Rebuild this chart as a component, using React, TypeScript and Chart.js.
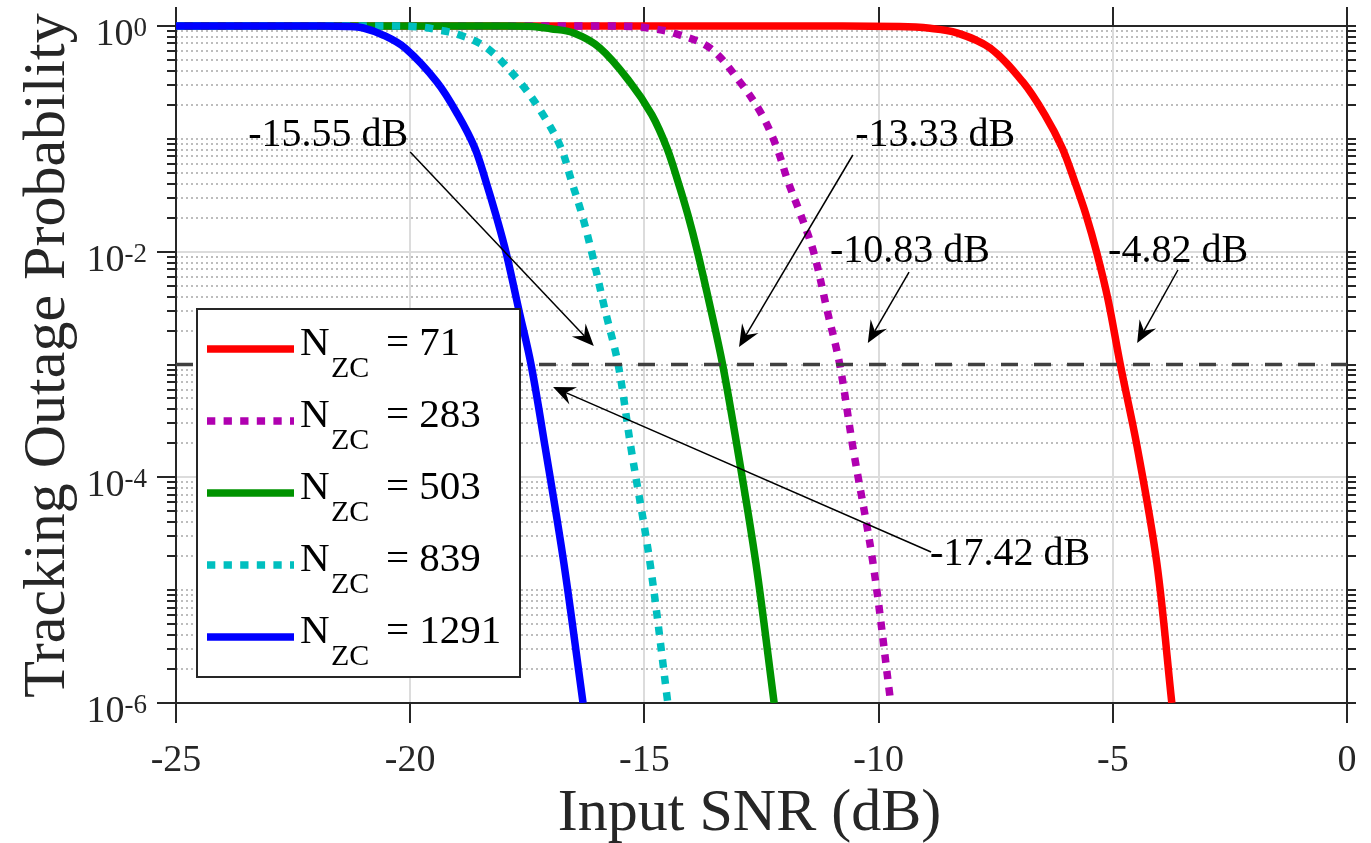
import React, { useEffect, useRef } from "react";
import { Chart, registerables } from "chart.js";

Chart.register(...registerables);

// ---------- data ----------
const SERIES_NZC = ["71", "283", "503", "839", "1291"];
const SERIES_COLORS = ["#ff0000", "#b000b0", "#009300", "#00bfbf", "#0000ff"];
const SERIES_DOTTED = [false, true, false, true, false];

const SNR_71 = [-25, -12.0, -9.55, -8.9, -8.33, -7.62, -6.92, -6.45, -6.08, -5.81, -5.57, -5.34, -5.1, -4.84, -4.48, -4.06, -3.74];
const P_71 = [1, 0.9995, 0.99, 0.955, 0.87, 0.638, 0.319, 0.163, 0.083, 0.0414, 0.0211, 0.0097, 0.00373, 0.001, 1.86e-4, 1.74e-5, 1e-6];

const SNR_283 = [-25, -16.0, -15.24, -14.85, -14.39, -13.6, -12.96, -12.49, -12.17, -11.93, -11.66, -11.38, -11.1, -10.83, -10.55, -10.12, -9.74];
const P_283 = [1, 0.9995, 0.99, 0.95, 0.87, 0.638, 0.319, 0.163, 0.083, 0.0414, 0.0211, 0.0097, 0.00304, 0.001, 1.86e-4, 1.74e-5, 1e-6];

const SNR_503 = [-25, -18.0, -17.38, -17.0, -16.52, -15.95, -15.31, -14.84, -14.52, -14.28, -14.07, -13.86, -13.58, -13.33, -13.02, -12.62, -12.23];
const P_503 = [1, 0.9995, 0.99, 0.945, 0.87, 0.638, 0.319, 0.163, 0.083, 0.0414, 0.0211, 0.0097, 0.00304, 0.001, 1.86e-4, 1.74e-5, 1e-6];

const SNR_839 = [-25, -20.5, -19.85, -19.5, -18.94, -18.36, -17.66, -17.16, -16.78, -16.55, -16.33, -16.12, -15.84, -15.56, -15.29, -14.88, -14.5];
const P_839 = [1, 0.9995, 0.985, 0.94, 0.832, 0.638, 0.319, 0.163, 0.083, 0.0414, 0.0211, 0.0097, 0.00304, 0.001, 1.86e-4, 1.74e-5, 1e-6];

const SNR_1291 = [-25, -22.0, -21.3, -21.0, -20.58, -20.11, -19.43, -18.98, -18.62, -18.38, -18.17, -17.95, -17.68, -17.42, -17.12, -16.72, -16.31];
const P_1291 = [1, 0.9995, 0.99, 0.96, 0.832, 0.638, 0.319, 0.163, 0.083, 0.0414, 0.0211, 0.0097, 0.00304, 0.001, 1.86e-4, 1.74e-5, 1e-6];

const SERIES_SNR = [SNR_71, SNR_283, SNR_503, SNR_839, SNR_1291];
const SERIES_P = [P_71, P_283, P_503, P_839, P_1291];

const THRESHOLD_SNR = [-25, 0];
const THRESHOLD_P = [1e-3, 1e-3];

const X_TICKS = [-25, -20, -15, -10, -5, 0];
const X_TICK_LABELS = ["-25", "-20", "-15", "-10", "-5", "0"];
const Y_MAJOR = [1, 1e-2, 1e-4, 1e-6];
const Y_MAJOR_EXP = ["0", "-2", "-4", "-6"];
const Y_MINOR_MANTISSAS = [1, 2, 3, 4, 5, 6, 7, 8, 9];
const Y_DECADES = [-6, -5, -4, -3, -2, -1];

const X_TITLE = "Input SNR (dB)";
const Y_TITLE = "Tracking Outage Probability";

const ANNOT_TEXT = ["-15.55 dB", "-13.33 dB", "-10.83 dB", "-4.82 dB", "-17.42 dB"];
const ANNOT_TEXT_X = [-23.46, -10.5, -11.04, -5.1, -8.9];
const ANNOT_TEXT_P = [0.0864, 0.0864, 8.1e-3, 8.1e-3, 1.67e-5];
const ARROW_TAIL_X = [-20.0, -10.55, -9.35, -3.61, -8.88];
const ARROW_TAIL_P = [0.0764, 0.0719, 6.6e-3, 6.88e-3, 2.18e-5];
const ARROW_HEAD_X = [-16.08, -12.98, -10.23, -4.48, -16.95];
const ARROW_HEAD_P = [1.46e-3, 1.43e-3, 1.55e-3, 1.55e-3, 6.31e-4];

// ---------- styling ----------
const SERIF = '"Liberation Serif", "Times New Roman", serif';
const AXIS_COLOR = "#262626";

function drawArrow(ctx: CanvasRenderingContext2D, x1: number, y1: number, x2: number, y2: number) {
  const dx = x2 - x1;
  const dy = y2 - y1;
  const len = Math.hypot(dx, dy);
  const ux = dx / len;
  const uy = dy / len;
  const px = -uy;
  const py = ux;
  const L = 22;
  const W = 9.5;
  const notch = 14;
  ctx.beginPath();
  ctx.moveTo(x1, y1);
  ctx.lineTo(x2 - ux * notch, y2 - uy * notch);
  ctx.stroke();
  ctx.beginPath();
  ctx.moveTo(x2, y2);
  ctx.lineTo(x2 - ux * L + px * W, y2 - uy * L + py * W);
  ctx.lineTo(x2 - ux * notch, y2 - uy * notch);
  ctx.lineTo(x2 - ux * L - px * W, y2 - uy * L - py * W);
  ctx.closePath();
  ctx.fill();
}

const decorPlugin = {
  id: "decor",
  beforeDatasetsDraw(chart: any) {
    const { ctx, chartArea: a, scales } = chart;
    const xs = scales.x;
    const ys = scales.y;
    const isMajor = (v: number) => Y_MAJOR.some((t) => Math.abs(Math.log10(t) - Math.log10(v)) < 1e-9);
    const minorVals: number[] = [];
    for (const d of Y_DECADES) for (const m of Y_MINOR_MANTISSAS) {
      const v = m * Math.pow(10, d);
      if (!isMajor(v)) minorVals.push(v);
    }
    ctx.save();
    // minor dotted grid
    ctx.strokeStyle = "#bdbdbd";
    ctx.lineWidth = 2;
    ctx.setLineDash([2, 3]);
    for (const v of minorVals) {
      const py = Math.round(ys.getPixelForValue(v));
      ctx.beginPath();
      ctx.moveTo(a.left, py);
      ctx.lineTo(a.right, py);
      ctx.stroke();
    }
    // major grid
    ctx.setLineDash([]);
    ctx.strokeStyle = "#dcdcdc";
    ctx.lineWidth = 2;
    for (const v of Y_MAJOR) {
      const py = Math.round(ys.getPixelForValue(v));
      ctx.beginPath();
      ctx.moveTo(a.left, py);
      ctx.lineTo(a.right, py);
      ctx.stroke();
    }
    for (const v of X_TICKS) {
      const px = Math.round(xs.getPixelForValue(v));
      ctx.beginPath();
      ctx.moveTo(px, a.top);
      ctx.lineTo(px, a.bottom);
      ctx.stroke();
    }
    // axes box
    ctx.strokeStyle = AXIS_COLOR;
    ctx.lineWidth = 2;
    ctx.strokeRect(a.left, a.top, a.right - a.left, a.bottom - a.top);
    // x ticks (bottom & top, outward)
    for (const v of X_TICKS) {
      const px = Math.round(xs.getPixelForValue(v));
      ctx.beginPath();
      ctx.moveTo(px, a.bottom);
      ctx.lineTo(px, a.bottom + 20);
      ctx.moveTo(px, a.top);
      ctx.lineTo(px, a.top - 19);
      ctx.stroke();
    }
    // y ticks
    for (const v of Y_MAJOR) {
      const py = Math.round(ys.getPixelForValue(v));
      ctx.beginPath();
      ctx.moveTo(a.left, py);
      ctx.lineTo(a.left - 19, py);
      ctx.moveTo(a.right, py);
      ctx.lineTo(a.right + 9, py);
      ctx.stroke();
    }
    for (const v of minorVals) {
      const py = Math.round(ys.getPixelForValue(v));
      ctx.beginPath();
      ctx.moveTo(a.left, py);
      ctx.lineTo(a.left - 9, py);
      ctx.moveTo(a.right, py);
      ctx.lineTo(a.right + 9, py);
      ctx.stroke();
    }
    // tick labels
    ctx.fillStyle = AXIS_COLOR;
    ctx.font = `38px ${SERIF}`;
    ctx.textAlign = "center";
    ctx.textBaseline = "alphabetic";
    X_TICKS.forEach((v, i) => {
      ctx.fillText(X_TICK_LABELS[i], xs.getPixelForValue(v), a.bottom + 68);
    });
    const labelRight = a.left - 29;
    Y_MAJOR.forEach((v, i) => {
      const py = ys.getPixelForValue(v);
      ctx.textAlign = "right";
      ctx.font = `27px ${SERIF}`;
      const supW = ctx.measureText(Y_MAJOR_EXP[i]).width;
      ctx.fillText(Y_MAJOR_EXP[i], labelRight, py + 10);
      ctx.font = `38px ${SERIF}`;
      ctx.fillText("10", labelRight - supW, py + 19);
    });
    // axis titles
    ctx.font = `60px ${SERIF}`;
    ctx.textAlign = "center";
    ctx.fillText(X_TITLE, (a.left + a.right) / 2 - 12, 830);
    ctx.save();
    ctx.translate(64, (a.top + a.bottom) / 2 - 9);
    ctx.rotate(-Math.PI / 2);
    ctx.fillText(Y_TITLE, 0, 0);
    ctx.restore();
    ctx.restore();
  },
  afterDatasetsDraw(chart: any) {
    const { ctx, scales } = chart;
    const xs = scales.x;
    const ys = scales.y;
    ctx.save();
    // annotations
    ctx.fillStyle = "#000";
    ctx.strokeStyle = "#000";
    ctx.lineWidth = 1.5;
    ctx.font = `40px ${SERIF}`;
    ctx.textAlign = "left";
    ctx.textBaseline = "alphabetic";
    ANNOT_TEXT.forEach((t, i) => {
      ctx.fillText(t, xs.getPixelForValue(ANNOT_TEXT_X[i]), ys.getPixelForValue(ANNOT_TEXT_P[i]));
      drawArrow(
        ctx,
        xs.getPixelForValue(ARROW_TAIL_X[i]),
        ys.getPixelForValue(ARROW_TAIL_P[i]),
        xs.getPixelForValue(ARROW_HEAD_X[i]),
        ys.getPixelForValue(ARROW_HEAD_P[i])
      );
    });
    // legend
    const bx = 197, by = 309, bw = 323, bh = 368;
    ctx.fillStyle = "#fff";
    ctx.fillRect(bx, by, bw, bh);
    ctx.strokeStyle = AXIS_COLOR;
    ctx.lineWidth = 2;
    ctx.strokeRect(bx, by, bw, bh);
    SERIES_NZC.forEach((n, i) => {
      const cy = 349 + i * 72;
      ctx.save();
      ctx.strokeStyle = SERIES_COLORS[i];
      ctx.lineWidth = 7.5;
      ctx.lineCap = "butt";
      ctx.setLineDash(SERIES_DOTTED[i] ? [8.3, 8.3] : []);
      ctx.beginPath();
      ctx.moveTo(207, cy);
      ctx.lineTo(294, cy);
      ctx.stroke();
      ctx.restore();
      ctx.fillStyle = "#000";
      ctx.textAlign = "left";
      ctx.font = `41px ${SERIF}`;
      ctx.fillText("N", 300, cy + 6);
      ctx.font = `30px ${SERIF}`;
      ctx.fillText("ZC", 331, cy + 28);
      ctx.font = `41px ${SERIF}`;
      ctx.fillText("= " + n, 386, cy + 6);
    });
    ctx.restore();
  },
};

export default function App() {
  const ref = useRef<HTMLCanvasElement>(null);
  useEffect(() => {
    document.body.style.margin = "0";
    const datasets: any[] = [
      {
        label: "threshold",
        data: THRESHOLD_SNR.map((x, j) => ({ x, y: THRESHOLD_P[j] })),
        borderColor: "#404040",
        borderWidth: 3.5,
        borderDash: [17, 16],
        pointRadius: 0,
        order: 0,
      },
    ];
    SERIES_NZC.forEach((n, i) => {
      datasets.push({
        label: "N_ZC = " + n,
        data: SERIES_SNR[i].map((x, j) => ({ x, y: SERIES_P[i][j] })),
        borderColor: SERIES_COLORS[i],
        borderWidth: 7.5,
        borderDash: SERIES_DOTTED[i] ? [8.3, 8.3] : [],
        borderCapStyle: "butt",
        borderJoinStyle: "round",
        pointRadius: 0,
        tension: 0.35,
        clip: { left: 0, top: 6, right: 0, bottom: 0 },
        order: 5 - i,
      });
    });
    const chart = new Chart(ref.current!, {
      type: "line",
      data: { datasets },
      plugins: [decorPlugin],
      options: {
        animation: false,
        responsive: false,
        devicePixelRatio: 1,
        layout: { padding: { left: 176, top: 26, right: 24, bottom: 140 } },
        plugins: { legend: { display: false }, tooltip: { enabled: false }, title: { display: false } },
        scales: {
          x: { type: "linear", min: -25, max: 0, display: false },
          y: { type: "logarithmic", min: 1e-6, max: 1, display: false },
        },
      },
    });
    return () => chart.destroy();
  }, []);
  return (
    <div style={{ position: "absolute", left: 0, top: 0, width: 1371, height: 843, background: "#fff" }}>
      <canvas ref={ref} width={1371} height={843} style={{ width: 1371, height: 843, display: "block" }} />
    </div>
  );
}
